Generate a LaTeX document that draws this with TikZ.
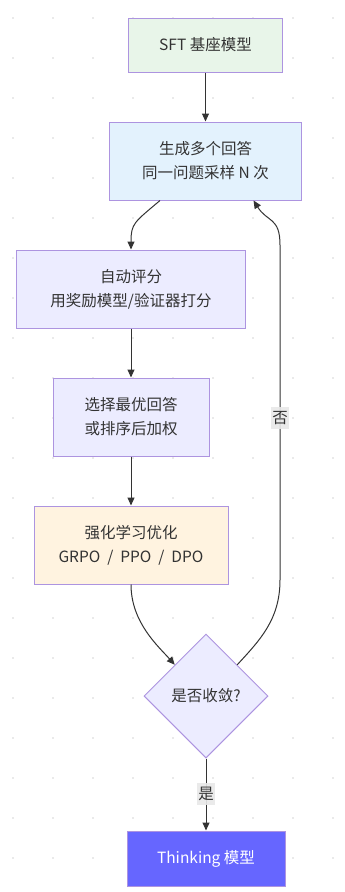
\documentclass[tikz,border=0pt]{standalone}
\usepackage{fontspec}
\setmainfont{Noto Sans CJK SC}
\usepackage{tikz}
\usetikzlibrary{arrows.meta, positioning, shapes.geometric}

\definecolor{edgeline}{HTML}{AD94E0}
\definecolor{greenfill}{HTML}{E8F5E9}
\definecolor{bluefill}{HTML}{E3F2FD}
\definecolor{lilacfill}{HTML}{ECECFF}
\definecolor{orangefill}{HTML}{FFF3E0}
\definecolor{finalfill}{HTML}{6666FF}
\definecolor{linkgray}{HTML}{333333}
\definecolor{labelfill}{HTML}{E8E8E8}
\definecolor{dotgray}{HTML}{D4D4D4}

\begin{document}
\begin{tikzpicture}[
    x=1pt, y=-1pt,
    box/.style={draw=edgeline, line width=1pt, minimum height=78pt, inner sep=0pt, align=center, font=\fontsize{15.5}{24}\selectfont, text=linkgray},
    choice/.style={diamond, draw=edgeline, line width=1pt, fill=lilacfill, minimum width=124pt, minimum height=124pt, inner sep=0pt, font=\fontsize{15.5}{20}\selectfont, text=linkgray},
    arrow/.style={-{Triangle[length=8pt, width=7pt]}, draw=linkgray, line width=1pt},
    edgelabel/.style={fill=labelfill, fill opacity=0.9, text opacity=1, inner xsep=1pt, inner ysep=4pt, font=\fontsize{15.5}{20}\selectfont, text=linkgray}
]
\useasboundingbox (0,0) rectangle (345,892);

% dotted background
\foreach \gx in {13,53,...,333}
  \foreach \gy in {18,58,...,882}
    \fill[dotgray] (\gx,\gy) circle (0.8);

% --- main chain ---
\node[box, fill=greenfill, minimum width=154pt, minimum height=54pt] (base) at (205.5, 45) {SFT 基座模型};
\node[box, fill=bluefill, minimum width=192pt] (sample) at (205.5, 161) {生成多个回答\\同一问题采样 N 次};
\node[box, fill=lilacfill, minimum width=229pt] (score) at (131, 289) {自动评分\\用奖励模型/验证器打分};
\node[box, fill=lilacfill, minimum width=156pt] (pick) at (131, 417) {选择最优回答\\或排序后加权};
\node[box, fill=orangefill, minimum width=194pt] (update) at (131, 545) {强化学习优化\\GRPO \ / \ PPO \ / \ DPO};
\node[choice] (check) at (206, 696) {是否收敛?};
\node[box, fill=finalfill, minimum width=158pt, minimum height=55pt, text=white] (final) at (206, 858.5) {Thinking 模型};

% loop-back corners
\coordinate (backlow) at (280, 580);
\coordinate (backhigh) at (280, 245);

% Arrows
\draw[arrow] (base) -- (sample);
\draw[arrow] ([xshift=-45.5pt]sample.south) .. controls +(-26,22) and +(0,-26) .. (score.north);
\draw[arrow] (score) -- (pick);
\draw[arrow] (pick) -- (update);
\draw[arrow] (update.south) .. controls +(0,38) and +(-16,-18) .. (check.north west);
\draw[arrow] (check.north east) .. controls +(22,-24) and +(0,40) .. (backlow) -- (backhigh) .. controls +(0,-28) and +(14,22) .. ([xshift=48pt]sample.south);
\draw[arrow] (check) -- (final);

% Labels on the links
\node[edgelabel] (nolabel) at (280, 418) {否};
\node[edgelabel] (yeslabel) at (206, 794) {是};

\end{tikzpicture}
\end{document}
